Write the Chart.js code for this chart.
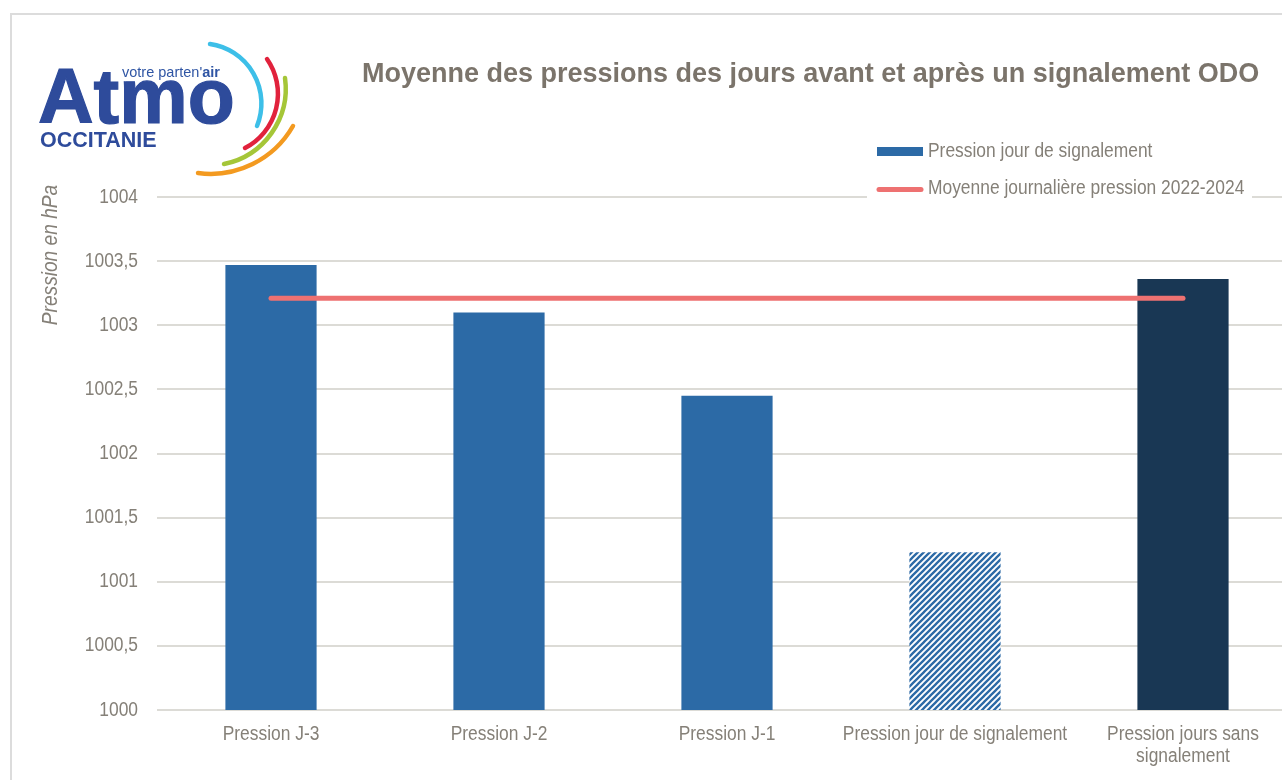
<!DOCTYPE html>
<html>
<head>
<meta charset="utf-8">
<script src="https://cdn.jsdelivr.net/npm/chart.js@4.4.1/dist/chart.umd.min.js"></script>
<style>
  html, body { margin: 0; padding: 0; background: #ffffff; overflow: hidden; width: 1282px; height: 780px; }
  #frame { position: absolute; left: 10px; top: 13px; width: 1300px; height: 800px; border: 2px solid #dcdcdc; box-sizing: border-box; }
  #wrap { position: absolute; left: 0; top: 0; width: 1310px; height: 780px; }
  #title { position: absolute; left: 362px; top: 58px; white-space: nowrap; font-family: "Liberation Sans", Arial, sans-serif; font-weight: bold; font-size: 27px; color: #7b746b; }
  #logo { position: absolute; left: 0; top: 0; }
</style>
</head>
<body>
<div id="frame"></div>
<div id="wrap"><canvas id="c" width="1310" height="780"></canvas></div>
<svg id="logo" width="320" height="190" xmlns="http://www.w3.org/2000/svg">
  <text x="38" y="123" font-family="Liberation Sans, Arial, sans-serif" font-size="77" font-weight="bold" fill="#2e4b9b" stroke="#2e4b9b" stroke-width="1.2">Atmo</text>
  <text x="122" y="77" font-family="Liberation Sans, Arial, sans-serif" font-size="14.5" fill="#2f55a4" stroke="#ffffff" stroke-width="3" paint-order="stroke">votre parten'<tspan font-weight="bold">air</tspan></text>
  <text x="40" y="147" font-family="Liberation Sans, Arial, sans-serif" font-size="21.5" font-weight="bold" fill="#2e4b9b">OCCITANIE</text>
  <path d="M 210 44 A 60 60 0 0 1 257 126" fill="none" stroke="#3dbfe8" stroke-width="4.5" stroke-linecap="round"/>
  <path d="M 267 59 A 61 61 0 0 1 245 148" fill="none" stroke="#e1223c" stroke-width="4.5" stroke-linecap="round"/>
  <path d="M 285 78 A 77 77 0 0 1 224 164" fill="none" stroke="#a5c638" stroke-width="4.5" stroke-linecap="round"/>
  <path d="M 293 126 A 95 95 0 0 1 198 173" fill="none" stroke="#f39a20" stroke-width="4.5" stroke-linecap="round"/>
</svg>
<div id="title">Moyenne des pressions des jours avant et après un signalement ODO</div>
<script>
const categories = ['Pression J-3', 'Pression J-2', 'Pression J-1', 'Pression jour de signalement', ['Pression jours sans', 'signalement']];
const pressionValues = [1003.47, 1003.10, 1002.45, 1001.23, 1003.36];
const moyenneValues = [1003.21, 1003.21, 1003.21, 1003.21, 1003.21];
const yTickValues = [1000, 1000.5, 1001, 1001.5, 1002, 1002.5, 1003, 1003.5, 1004];
const yTickLabels = ['1000', '1000,5', '1001', '1001,5', '1002', '1002,5', '1003', '1003,5', '1004'];
const seriesNames = ['Pression jour de signalement', 'Moyenne journalière pression 2022-2024'];
const yAxisTitle = 'Pression en hPa';

const BLUE = '#2c6aa6';
const DARK = '#193754';
const RED = '#ee7171';
const TXT = '#858078';
const FONT = '"Liberation Sans Narrow", "Arial Narrow", "Liberation Sans", sans-serif';
const NARROW = 0.87;

const canvas = document.getElementById('c');
const baseCtx = canvas.getContext('2d');
const origFillText = baseCtx.fillText;
// Condensed rendering of canvas text (narrow font look)
baseCtx.fillText = function (text, x, y, maxWidth) {
  this.save();
  this.translate(x, y);
  this.scale(NARROW, 1);
  if (maxWidth !== undefined && maxWidth !== null) origFillText.call(this, text, 0, 0, maxWidth / NARROW);
  else origFillText.call(this, text, 0, 0);
  this.restore();
};

function makePattern() {
  const s = 6;
  const p = document.createElement('canvas');
  p.width = s; p.height = s;
  const g = p.getContext('2d');
  g.fillStyle = '#ffffff';
  g.fillRect(0, 0, s, s);
  g.strokeStyle = BLUE;
  g.lineWidth = 2.3;
  g.beginPath();
  g.moveTo(-1, s + 1); g.lineTo(s + 1, -1);
  g.moveTo(-1, 1); g.lineTo(1, -1);
  g.moveTo(s - 1, s + 1); g.lineTo(s + 1, s - 1);
  g.stroke();
  return baseCtx.createPattern(p, 'repeat');
}

const barColors = [BLUE, BLUE, BLUE, makePattern(), DARK];

const decorPlugin = {
  id: 'decor',
  afterDraw(chart) {
    const ctx = chart.ctx;
    ctx.save();
    // legend
    ctx.fillStyle = '#ffffff';
    ctx.fillRect(867, 133, 385, 72);
    ctx.fillStyle = BLUE;
    ctx.fillRect(877, 147, 46, 9);
    ctx.strokeStyle = RED;
    ctx.lineWidth = 5;
    ctx.lineCap = 'round';
    ctx.beginPath();
    ctx.moveTo(879, 189.5); ctx.lineTo(921, 189.5);
    ctx.stroke();
    ctx.fillStyle = TXT;
    ctx.font = '20px ' + FONT;
    ctx.textBaseline = 'middle';
    ctx.textAlign = 'left';
    ctx.fillText(seriesNames[0], 928, 151);
    ctx.fillText(seriesNames[1], 928, 188);
    // y axis title
    ctx.translate(51, 255);
    ctx.rotate(-Math.PI / 2);
    ctx.font = 'italic 22px ' + FONT;
    ctx.textAlign = 'center';
    ctx.fillText(yAxisTitle, 0, 0);
    ctx.restore();
  }
};

new Chart(canvas, {
  data: {
    labels: categories,
    datasets: [
      {
        type: 'line',
        label: seriesNames[1],
        data: moyenneValues,
        borderColor: RED,
        borderWidth: 5,
        borderCapStyle: 'round',
        pointRadius: 0,
        fill: false,
        order: 0
      },
      {
        type: 'bar',
        label: seriesNames[0],
        data: pressionValues,
        backgroundColor: barColors,
        borderWidth: 0,
        barPercentage: 0.4,
        categoryPercentage: 1.0,
        order: 1
      }
    ]
  },
  options: {
    responsive: false,
    animation: false,
    layout: { padding: { left: 0, right: 13, top: 197, bottom: 0 } },
    plugins: { legend: { display: false }, title: { display: false }, tooltip: { enabled: false } },
    scales: {
      x: {
        grid: { display: false, drawTicks: false },
        border: { display: false },
        ticks: { color: TXT, font: { family: FONT, size: 20, lineHeight: 1.12 }, padding: 13, maxRotation: 0, autoSkip: false },
        afterFit(scale) { scale.height = 70; }
      },
      y: {
        min: 1000,
        max: 1004,
        afterBuildTicks(scale) { scale.ticks = yTickValues.map(v => ({ value: v })); },
        ticks: {
          color: TXT,
          font: { family: FONT, size: 20 },
          padding: 19,
          callback: (v) => yTickLabels[yTickValues.indexOf(v)]
        },
        grid: { color: '#dcdbd6', lineWidth: 2, drawTicks: false },
        border: { display: false },
        afterFit(scale) { scale.width = 157; }
      }
    }
  },
  plugins: [decorPlugin]
});
</script>
</body>
</html>
